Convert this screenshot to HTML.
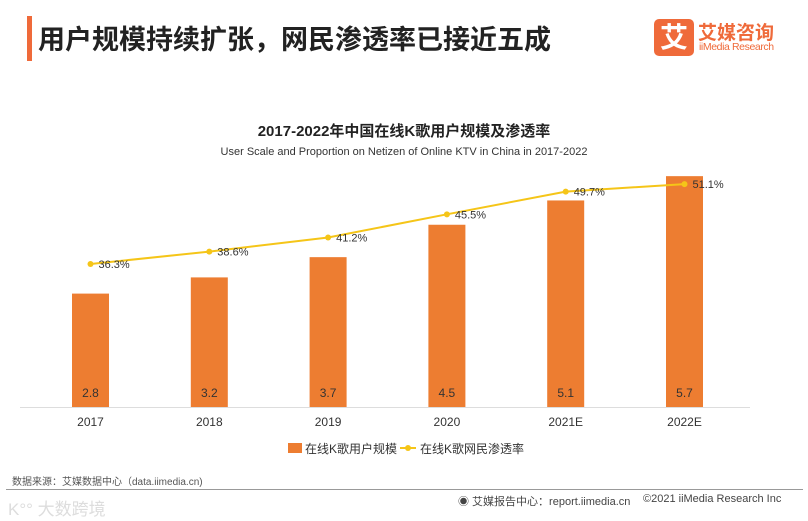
<!DOCTYPE html>
<html><head><meta charset="utf-8"><style>
body{margin:0;width:808px;height:521px;background:#fff;overflow:hidden;font-family:"Liberation Sans","Noto Sans CJK SC",sans-serif;position:relative}
.a{position:absolute;white-space:nowrap}
</style></head><body>
<div class="a" style="left:27px;top:16px;width:5px;height:45px;background:#ef6a3a"></div>
<div class="a" style="left:38px;top:18px;font-size:27px;font-weight:bold;color:#222">用户规模持续扩张，网民渗透率已接近五成</div>
<div class="a" style="left:654px;top:19px;width:40px;height:37px;background:#ef6a3a;border-radius:5px;color:#fff;font-size:28px;font-weight:bold;text-align:center;line-height:37px">艾</div>
<div class="a" style="left:698px;top:18px;font-size:19px;font-weight:bold;color:#ef6a3a">艾媒咨询</div>
<div class="a" style="left:699px;top:41px;font-size:10.5px;color:#ef6a3a;letter-spacing:-0.4px">iiMedia Research</div>
<div class="a" style="left:0;width:808px;text-align:center;top:120px;font-size:15px;font-weight:bold;color:#222">2017-2022年中国在线K歌用户规模及渗透率</div>
<div class="a" style="left:0;width:808px;text-align:center;top:146px;font-size:11px;color:#333">User Scale and Proportion on Netizen of Online KTV in China in 2017-2022</div>
<svg class="a" style="left:0;top:0" width="808" height="521" id="chart"></svg>
<div class="a" style="left:288px;top:443px;width:14px;height:10px;background:#ed7d31"></div>
<div class="a" style="left:305px;top:440px;font-size:12px;color:#333">在线K歌用户规模</div>
<div class="a" style="left:400px;top:447px;width:16px;height:2px;background:#f5c518"></div>
<div class="a" style="left:405px;top:445px;width:6px;height:6px;border-radius:3px;background:#f5c518"></div>
<div class="a" style="left:420px;top:440px;font-size:12px;color:#333">在线K歌网民渗透率</div>
<div class="a" style="left:12px;top:473px;font-size:10px;color:#555">数据来源：艾媒数据中心（data.iimedia.cn)</div>
<div class="a" style="left:6px;top:489px;width:797px;height:1px;background:#999"></div>
<div class="a" style="left:8px;top:495px;font-size:17px;color:#ddd">K°° 大数跨境</div>
<div class="a" style="left:458px;top:493px;font-size:11px;color:#444">◉ 艾媒报告中心：report.iimedia.cn</div>
<div class="a" style="left:643px;top:493px;font-size:11px;color:#444">©2021 iiMedia Research Inc</div>
<script>
const categories=["2017","2018","2019","2020","2021E","2022E"];
const users=[2.8,3.2,3.7,4.5,5.1,5.7];
const rates=[36.3,38.6,41.2,45.5,49.7,51.1];
const NS="http://www.w3.org/2000/svg";
const svg=document.getElementById('chart');
const x=i=>90.5+i*118.8;
const yb=v=>407-v*40.5;
const yl=v=>264-(v-36.3)*5.4;
function mk(t,a){const e=document.createElementNS(NS,t);for(const k in a)e.setAttribute(k,a[k]);svg.appendChild(e);return e;}
const ax=mk('line',{x1:20,x2:750,y1:407.5,y2:407.5,stroke:'#ddd'});


users.forEach((v,i)=>{
 const r=mk('rect',{x:x(i)-18.5,y:yb(v),width:37,height:407-yb(v),fill:'#ed7d31'});
 
 
 const t=mk('text',{x:x(i),y:397,'text-anchor':'middle','font-size':12,fill:'#333'});t.textContent=v;
 
 
 const c=mk('text',{x:x(i),y:426,'text-anchor':'middle','font-size':12,fill:'#333'});c.textContent=categories[i];
 
 
});
const pl=mk('polyline',{points:rates.map((v,i)=>x(i)+','+yl(v)).join(' '),fill:'none',stroke:'#f5c518','stroke-width':2});


rates.forEach((v,i)=>{
 const c=mk('circle',{cx:x(i),cy:yl(v),r:3,fill:'#f5c518'});
 
 
 const t=mk('text',{x:x(i)+8,y:yl(v)+4,'font-size':11,fill:'#333'});t.textContent=v.toFixed(1)+'%';
 
 
});
</script>
</body></html>
